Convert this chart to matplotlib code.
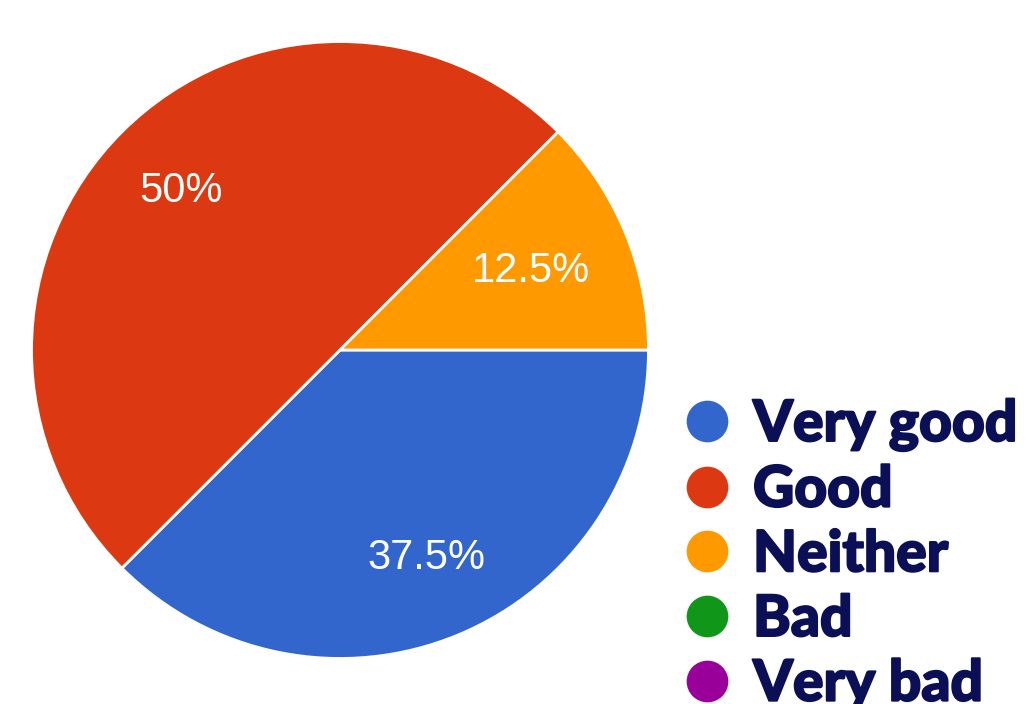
import matplotlib.pyplot as plt
import matplotlib.patheffects as pe
from matplotlib.lines import Line2D

categories = ['Very good', 'Good', 'Neither', 'Bad', 'Very bad']
shares = [37.5, 50, 12.5, 0, 0]
colors = ['#3366cc', '#dc3912', '#ff9900', '#109618', '#990099']

fig = plt.figure(figsize=(10.29, 7.04), dpi=100)
ax = fig.add_axes([30 / 1029, 44 / 704, 620 / 1029, 620 / 704])

# only the non-empty slices get a wedge
vals = [v for v in shares if v > 0]
cols = [c for v, c in zip(shares, colors) if v > 0]
wedges, texts, autotexts = ax.pie(
    vals, colors=cols, startangle=0, counterclock=False,
    autopct=lambda p: f'{p:g}%', pctdistance=1.0,
    wedgeprops=dict(edgecolor='white', linewidth=2),
    textprops=dict(color='white', fontsize=30, family='Liberation Sans'))
# pull each label in toward the centre
for t, d in zip(autotexts, [0.73, 0.73, 0.67]):
    x, y = t.get_position()
    t.set_position((x * d, y * d))
ax.set_xlim(-1.005, 1.005)
ax.set_ylim(-1.005, 1.005)
ax.set_aspect('equal')

handles = [Line2D([], [], marker='o', linestyle='none', markersize=30,
                  markerfacecolor=c, markeredgecolor='none') for c in colors]
leg = fig.legend(handles, categories, loc='upper left',
                 bbox_to_anchor=(679 / 1029, 1 - 398 / 704),
                 frameon=False, borderpad=0, borderaxespad=0,
                 handlelength=1, handletextpad=0.3, labelspacing=0.205,
                 prop=dict(family='Lato', weight='black', size=41),
                 labelcolor='#0b1056')
for t in leg.get_texts():
    t.set_path_effects([pe.withStroke(linewidth=1.4, foreground='#0b1056')])

fig.savefig('out.png', dpi=100)
